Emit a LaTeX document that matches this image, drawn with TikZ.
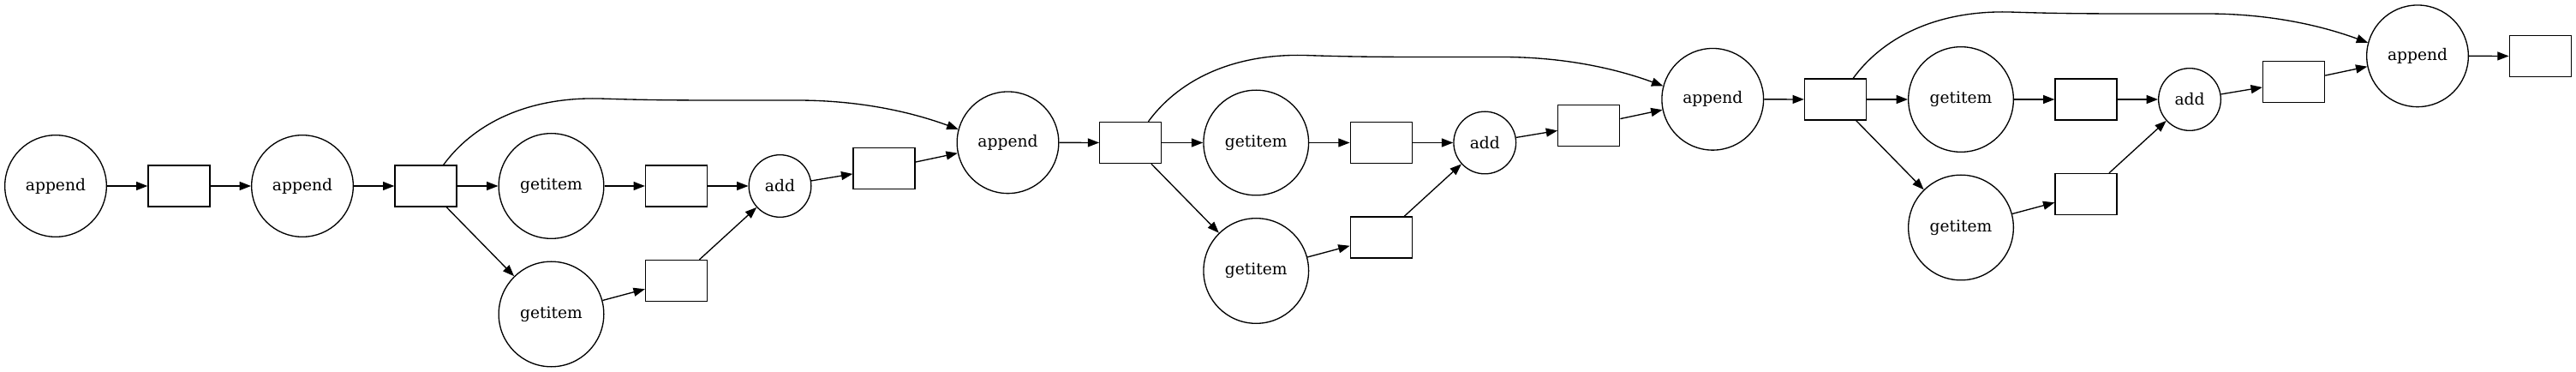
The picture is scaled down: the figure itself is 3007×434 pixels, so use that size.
\documentclass[tikz,border=0pt]{standalone}
\usepackage{fontspec}
\setmainfont{DejaVu Serif}
\usetikzlibrary{arrows.meta,calc}
\begin{document}
\begin{tikzpicture}[x=0.75pt,y=-0.75pt,
  every node/.style={font=\fontsize{14}{16}\selectfont, line width=1pt},
  rbox/.style={draw, rectangle, minimum width=54pt, minimum height=36pt, inner sep=0pt},
  appendnode/.style={draw, circle, minimum size=89pt, inner sep=0pt},
  getnode/.style={draw, circle, minimum size=92pt, inner sep=0pt},
  addnode/.style={draw, circle, minimum size=54.5pt, inner sep=0pt},
  link/.style={draw, line width=1pt, -{Triangle[length=10pt,width=7.5pt]}}
]
\useasboundingbox (0,0) rectangle (3007,434);
\node[appendnode] (a0) at (65,217) {append};
\node[rbox] (b0) at (209,217) {};
\node[appendnode] (a1) at (353,217) {append};
\node[rbox] (R0) at (497,217) {};
\draw[link] (a0) -- (b0);
\draw[link] (b0) -- (a1);
\draw[link] (a1) -- (R0);
\foreach \i in {0,1,2}{
  \pgfmathtruncatemacro{\j}{\i+1}
  \begin{scope}[shift={(822.75*\i,-50.5*\i)}]
    \node[getnode] (GA\i) at (643.5,217) {getitem};
    \node[getnode] (GB\i) at (643.5,366.5) {getitem};
    \node[rbox] (RA\i) at (789.5,217) {};
    \node[rbox] (RB\i) at (789.5,327.5) {};
    \node[addnode] (AD\i) at (910.5,217) {add};
    \node[rbox] (RC\i) at (1032,196.8) {};
    \node[appendnode] (AP\i) at (1176.5,166.3) {append};
    \node[rbox] (R\j) at (1319.75,166.5) {};
    \draw[link] (R\i) -- (GA\i);
    \draw[link] (R\i) -- (GB\i);
    \draw[link] (GA\i) -- (RA\i);
    \draw[link] (GB\i) -- (RB\i);
    \draw[link] (RA\i) -- (AD\i);
    \draw[link] (RB\i) -- (AD\i);
    \draw[link] (AD\i) -- (RC\i);
    \draw[link] (RC\i) -- (AP\i);
    \draw[link] (AP\i) -- (R\j);
    \draw[link] (R\i.50) .. controls (550,148) and (610,113) .. (700,115)
      .. controls (760,117) and (800,117) .. (860,117) -- (930,117)
      .. controls (1010,117) and (1070,133) .. (AP\i.165);
  \end{scope}
}
\end{tikzpicture}
\end{document}
